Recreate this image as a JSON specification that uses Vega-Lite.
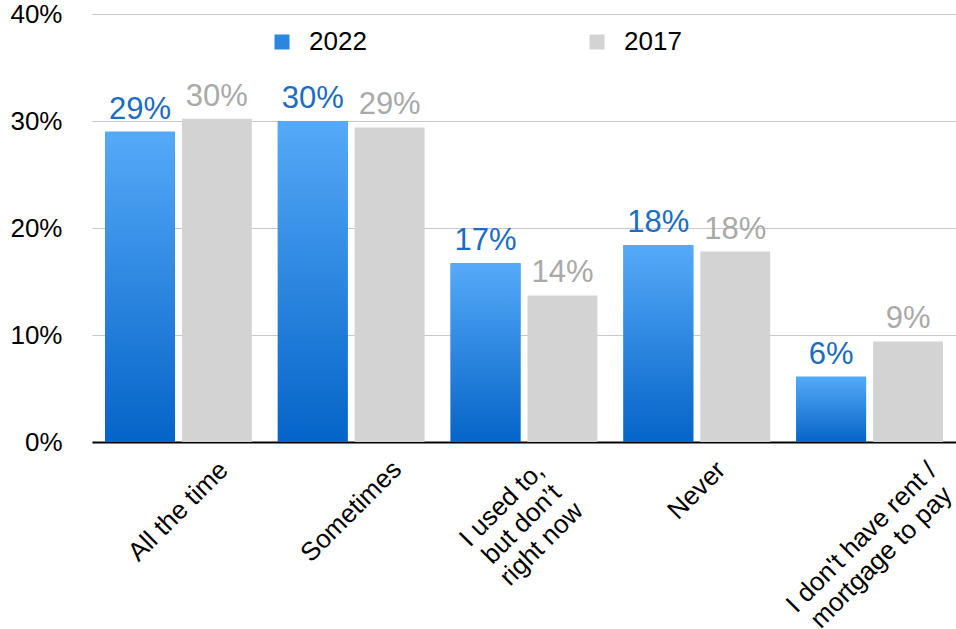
{
  "$schema": "https://vega.github.io/schema/vega-lite/v6.json",
  "width": 864,
  "height": 428,
  "autosize": {"type": "none"},
  "padding": {"left": 92, "top": 14, "right": 0, "bottom": 187},
  "background": "white",
  "config": {
    "view": {"stroke": null},
    "font": "Liberation Sans"
  },
  "data": {
    "values": [
      {"answer": "All the time", "year": "2022", "share": 0.290},
      {"answer": "All the time", "year": "2017", "share": 0.302},
      {"answer": "Sometimes", "year": "2022", "share": 0.300},
      {"answer": "Sometimes", "year": "2017", "share": 0.294},
      {"answer": "I used to, but don’t right now", "year": "2022", "share": 0.167},
      {"answer": "I used to, but don’t right now", "year": "2017", "share": 0.137},
      {"answer": "Never", "year": "2022", "share": 0.184},
      {"answer": "Never", "year": "2017", "share": 0.178},
      {"answer": "I don't have rent / mortgage to pay", "year": "2022", "share": 0.061},
      {"answer": "I don't have rent / mortgage to pay", "year": "2017", "share": 0.094}
    ]
  },
  "encoding": {
    "x": {
      "field": "answer",
      "type": "nominal",
      "sort": null,
      "scale": {"paddingInner": 0, "paddingOuter": 0},
      "axis": {
        "title": null,
        "domainColor": "#000000",
        "domainWidth": 2,
        "ticks": false,
        "labelAngle": -45,
        "labelAlign": "center",
        "labelBaseline": "middle",
        "labelFontSize": 26,
        "labelColor": "#000000",
        "labelLimit": 0,
        "labelLineHeight": 28,
        "labelPadding": {
          "condition": [
            {"test": "datum.value == 'Never'", "value": 48},
            {"test": "indexof(datum.value, 'used') >= 0", "value": 62},
            {"test": "indexof(datum.value, 'rent') >= 0", "value": 95}
          ],
          "value": 69
        },
        "labelOffset": {
          "condition": [
            {"test": "indexof(datum.value, 'used') >= 0", "value": -22},
            {"test": "indexof(datum.value, 'rent') >= 0", "value": -8}
          ],
          "value": 0
        },
        "labelExpr": "indexof(datum.value, 'used') >= 0 ? ['I used to,', 'but don’t', 'right now'] : indexof(datum.value, 'rent') >= 0 ? [substring(datum.value, 0, 19), substring(datum.value, 20)] : datum.value"
      }
    },
    "xOffset": {
      "field": "year",
      "type": "nominal",
      "sort": ["2022", "2017"],
      "scale": {"paddingInner": 0.091, "paddingOuter": 0.169}
    },
    "y": {
      "field": "share",
      "type": "quantitative",
      "scale": {"domain": [0, 0.4]},
      "axis": {
        "title": null,
        "format": ".0%",
        "values": [0, 0.1, 0.2, 0.3, 0.4],
        "domain": false,
        "ticks": false,
        "grid": true,
        "gridColor": "#c8c8c8",
        "gridWidth": 1,
        "labelFontSize": 26,
        "labelColor": "#000000",
        "labelPadding": 30
      }
    }
  },
  "layer": [
    {
      "mark": {"type": "bar"},
      "encoding": {
        "color": {
          "field": "year",
          "type": "nominal",
          "sort": ["2022", "2017"],
          "scale": {"domain": ["2022", "2017"], "range": ["#2b86e0", "#d3d3d3"]},
          "legend": {
            "title": null,
            "orient": "none",
            "direction": "horizontal",
            "legendX": 177,
            "legendY": 15,
            "padding": 0,
            "symbolType": "square",
            "symbolSize": 225,
            "symbolStrokeWidth": 0,
            "labelFontSize": 26,
            "labelColor": "#000000",
            "labelOffset": 14,
            "columnPadding": 217,
            "encode": {
              "symbols": {
                "update": {
                  "fill": [
                    {"test": "datum.value === '2022'", "value": {"gradient": "linear", "x1": 0, "y1": 1, "x2": 0, "y2": 0, "stops": [{"offset": 0, "color": "#0564c8"}, {"offset": 1, "color": "#55aaf8"}]}},
                    {"value": "#d3d3d3"}
                  ]
                }
              }
            }
          }
        }
      }
    },
    {
      "transform": [{"filter": "datum.year == '2022'"}],
      "mark": {
        "type": "bar",
        "color": {"gradient": "linear", "x1": 0, "y1": 1, "x2": 0, "y2": 0, "stops": [{"offset": 0, "color": "#0564c8"}, {"offset": 1, "color": "#55aaf8"}]}
      },
      "encoding": {}
    },
    {
      "mark": {"type": "text", "baseline": "alphabetic", "dy": -13, "fontSize": 31},
      "encoding": {
        "text": {"field": "share", "type": "quantitative", "format": ".0%"},
        "color": {
          "condition": {"test": "datum.year == '2022'", "value": "#1a6cc4"},
          "value": "#a9a9a9"
        }
      }
    }
  ]
}
